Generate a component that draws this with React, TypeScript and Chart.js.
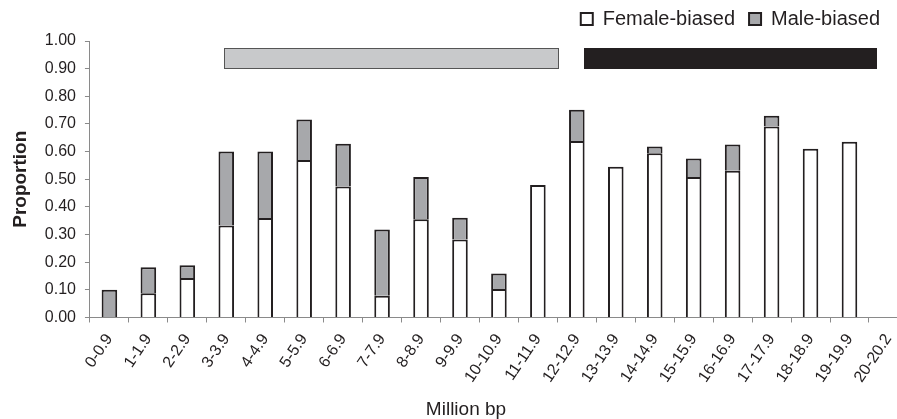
import React, { useEffect, useRef } from 'react';
import { Chart, registerables } from 'chart.js';

Chart.register(...registerables);

const categories = [
  '0-0.9', '1-1.9', '2-2.9', '3-3.9', '4-4.9', '5-5.9', '6-6.9', '7-7.9', '8-8.9', '9-9.9',
  '10-10.9', '11-11.9', '12-12.9', '13-13.9', '14-14.9', '15-15.9', '16-16.9', '17-17.9',
  '18-18.9', '19-19.9', '20-20.2',
];

const femaleBiased = [
  null, 0.088, 0.143, 0.333, 0.36, 0.57, 0.474, 0.079, 0.355, 0.282,
  0.103, 0.479, 0.638, 0.545, 0.594, 0.508, 0.531, 0.691, 0.61, 0.636, null,
];

const maleBiased = [
  0.10, 0.094, 0.046, 0.267, 0.24, 0.146, 0.154, 0.239, 0.153, 0.079,
  0.056, null, 0.113, null, 0.024, 0.067, 0.095, 0.039, null, null, null,
];

// Genomic regions (Mb) shown as bars across the top of the plot
const regionStartMb = [3.44, 12.69];
const regionEndMb = [12.05, 20.2];
const regionLow = [0.9, 0.9];
const regionHigh = [0.975, 0.975];
const regionFill = ['#c8c9cb', '#231f20'];
const regionStroke = ['#555555', null];

const yMin = 0;
const yMax = 1;
const yStep = 0.1;
const xVisibleMax = 20.72;

const DARK = '#231f20';
const AXIS = '#8a8a8a';
const FONT = "'Liberation Sans', Arial, sans-serif";
const LEGEND_EXTRA = 2;
const LEGEND_SHIFT = -3;
const TITLE_SHIFT = 17;

const regionPlugin = {
  id: 'regions',
  beforeDatasetsDraw(chart: any) {
    const { ctx, scales } = chart;
    const x = scales.x;
    const y = scales.y;
    regionStartMb.forEach((s, i) => {
      const x0 = Math.round(x.getPixelForValue(s));
      const x1 = Math.round(x.getPixelForValue(regionEndMb[i]));
      const y0 = Math.round(y.getPixelForValue(regionHigh[i]));
      const y1 = Math.round(y.getPixelForValue(regionLow[i]));
      ctx.save();
      ctx.fillStyle = regionFill[i];
      ctx.fillRect(x0, y0, x1 - x0, y1 - y0);
      if (regionStroke[i]) {
        ctx.strokeStyle = regionStroke[i] as string;
        ctx.lineWidth = 1;
        ctx.strokeRect(x0 + 0.5, y0 + 0.5, x1 - x0 - 1, y1 - y0 - 1);
      }
      ctx.restore();
    });
  },
};

const layoutTweaks = {
  id: 'layoutTweaks',
  beforeLayout(chart: any) {
    const lg = chart.legend;
    if (lg && !lg._spacerPatched) {
      const orig = lg.fit.bind(lg);
      lg.fit = function () {
        orig();
        this.height += LEGEND_EXTRA;
      };
      lg._spacerPatched = true;
    }
  },
  afterLayout(chart: any) {
    if (chart.legend) {
      chart.legend.left += LEGEND_SHIFT;
      chart.legend.right += LEGEND_SHIFT;
    }
    if (chart.titleBlock) {
      chart.titleBlock.left += TITLE_SHIFT;
      chart.titleBlock.right += TITLE_SHIFT;
    }
  },
};

export default function App() {
  const ref = useRef<HTMLCanvasElement>(null);

  useEffect(() => {
    if (!ref.current) return;
    const toPoints = (arr: (number | null)[]) => arr.map((v, i) => ({ x: i + 0.5, y: v }));
    const chart = new Chart(ref.current, {
      type: 'bar',
      data: {
        datasets: [
          {
            label: 'Female-biased',
            data: toPoints(femaleBiased) as any,
            backgroundColor: '#ffffff',
            borderColor: DARK,
            borderWidth: 2,
            categoryPercentage: 1,
            barPercentage: 0.4,
          },
          {
            label: 'Male-biased',
            data: toPoints(maleBiased) as any,
            backgroundColor: '#a7a8ab',
            borderColor: DARK,
            borderWidth: 2,
            categoryPercentage: 1,
            barPercentage: 0.4,
          },
        ],
      },
      options: {
        animation: false,
        responsive: false,
        maintainAspectRatio: false,
        layout: { padding: { left: 1, right: 0, top: -5, bottom: -2 } },
        plugins: {
          legend: {
            position: 'top',
            align: 'end',
            labels: {
              boxWidth: 12,
              boxHeight: 12,
              padding: 14,
              color: DARK,
              font: { family: FONT, size: 20 },
            },
          },
          title: {
            display: true,
            position: 'bottom',
            text: 'Million bp',
            color: DARK,
            font: { family: FONT, size: 19, weight: 'normal' },
            padding: { top: 4, bottom: 0 },
          },
          tooltip: { enabled: false },
        },
        scales: {
          x: {
            type: 'linear',
            min: 0,
            max: xVisibleMax,
            offset: false,
            stacked: true,
            afterBuildTicks: (scale: any) => {
              scale.ticks = categories.map((_, i) => ({ value: i + 0.5 }));
            },
            afterFit: (scale: any) => {
              scale.paddingRight = 0;
            },
            ticks: {
              autoSkip: false,
              maxRotation: 56,
              minRotation: 56,
              padding: 8,
              color: DARK,
              font: { family: FONT, size: 16 },
              callback: (_v: any, i: number) => categories[i],
            },
            grid: {
              display: true,
              drawOnChartArea: false,
              drawTicks: true,
              offset: true,
              tickLength: 5,
              color: AXIS,
              lineWidth: 1,
            },
            border: { display: true, color: AXIS, width: 1 },
          },
          y: {
            min: yMin,
            max: yMax,
            stacked: true,
            ticks: {
              stepSize: yStep,
              padding: 9,
              color: DARK,
              font: { family: FONT, size: 16 },
              callback: (v: any) => Number(v).toFixed(2),
            },
            grid: {
              display: true,
              drawOnChartArea: false,
              drawTicks: true,
              tickLength: 5,
              color: AXIS,
              lineWidth: 1,
            },
            border: { display: true, color: AXIS, width: 1 },
            title: {
              display: true,
              text: 'Proportion',
              color: DARK,
              font: { family: FONT, size: 19, weight: 'bold' },
              padding: { top: 8, bottom: 4 },
            },
          },
        },
      },
      plugins: [regionPlugin, layoutTweaks],
    } as any);
    return () => chart.destroy();
  }, []);

  return (
    <div style={{ position: 'absolute', left: 0, top: 0, width: 897, height: 419, background: '#fff' }}>
      <canvas ref={ref} width={897} height={419} style={{ width: 897, height: 419, display: 'block' }} />
    </div>
  );
}
